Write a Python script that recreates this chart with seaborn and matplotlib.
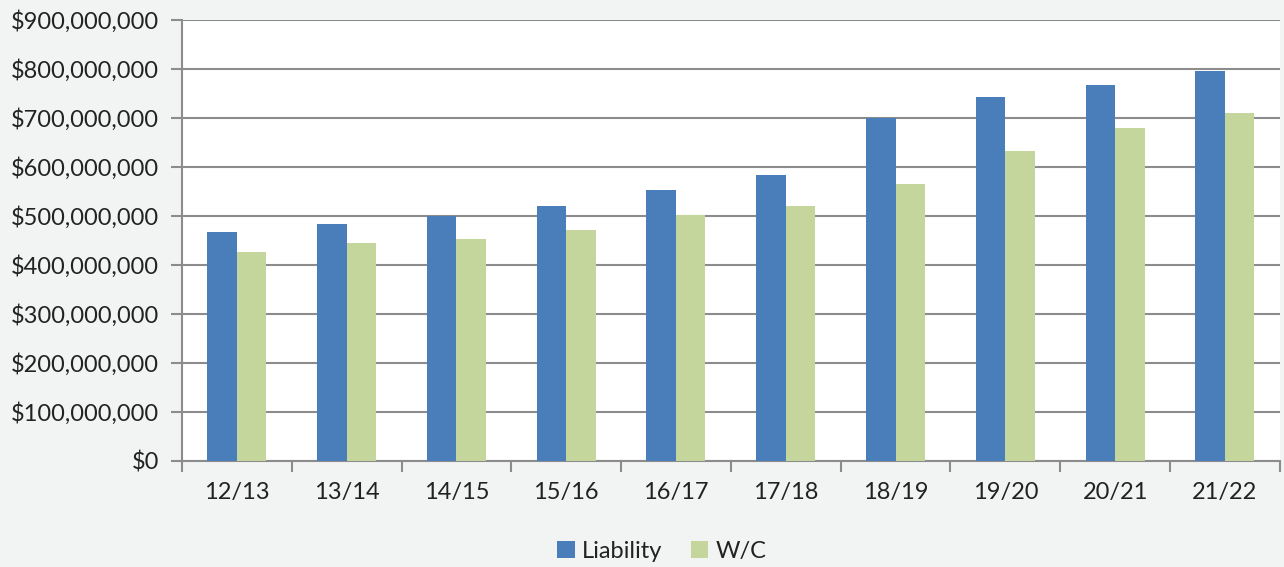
import pandas as pd
import numpy as np
import matplotlib.pyplot as plt
import seaborn as sns
from matplotlib.ticker import FuncFormatter, MultipleLocator

# 数据
years = ['12/13', '13/14', '14/15', '15/16', '16/17', '17/18', '18/19', '19/20', '20/21', '21/22']
liability = [467e6, 484e6, 499e6, 520e6, 552e6, 583e6, 699e6, 743e6, 767e6, 796e6]
wc = [427e6, 445e6, 452e6, 471e6, 502e6, 520e6, 565e6, 633e6, 680e6, 710e6]
series_names = ['Liability', 'W/C']
colors = ['#4a7ebb', '#c4d69b']

df = pd.DataFrame({
    'year': years * 2,
    'value': liability + wc,
    'series': [series_names[0]] * len(years) + [series_names[1]] * len(years),
})

sns.set_theme(style='white')
plt.rcParams['font.family'] = ['Lato', 'DejaVu Sans']

fig = plt.figure(figsize=(12.84, 5.67), dpi=100, facecolor='#f2f4f3')
ax = fig.add_axes([0.1417, 0.187, 0.855, 0.778])
ax.set_facecolor('white')

sns.barplot(data=df, x='year', y='value', hue='series', palette=colors,
            width=0.537, gap=0, saturation=1, linewidth=0, ax=ax, legend=True, zorder=3)

grid_c = '#8c8c8c'
txt_c = '#222222'
ax.set_ylim(0, 900e6)
ax.set_xlim(-0.5, len(years) - 0.5)
ax.yaxis.set_major_locator(MultipleLocator(100e6))
ax.yaxis.set_major_formatter(FuncFormatter(lambda v, p: f'${v:,.0f}'))
ax.grid(axis='y', color=grid_c, linewidth=1.5, zorder=0)
ax.set_axisbelow(True)

for s in ['top', 'right']:
    ax.spines[s].set_visible(False)
for s in ['left', 'bottom']:
    ax.spines[s].set_color(grid_c)
    ax.spines[s].set_linewidth(1.5)

ax.tick_params(axis='y', which='major', length=8, width=1.5, color=grid_c,
               direction='out', left=True, labelsize=17, pad=8.5, labelcolor=txt_c)
ax.tick_params(axis='x', which='major', length=0, labelsize=17, pad=15, labelcolor=txt_c)
ax.set_xticks(np.arange(-0.5, len(years)), minor=True)
ax.tick_params(axis='x', which='minor', length=8, width=1.5, color=grid_c, direction='out', bottom=True)

ax.set_xlabel('')
ax.set_ylabel('')

handles, labels = ax.get_legend_handles_labels()
ax.get_legend().remove()
fig.legend(handles, labels, loc='center', bbox_to_anchor=(0.5155, 0.028), ncol=2, frameon=False,
           fontsize=17, handlelength=0.75, handleheight=0.75, handletextpad=0.3,
           columnspacing=1.2, labelcolor=txt_c, borderaxespad=0, borderpad=0)

plt.savefig('out.png', dpi=100, facecolor=fig.get_facecolor())
